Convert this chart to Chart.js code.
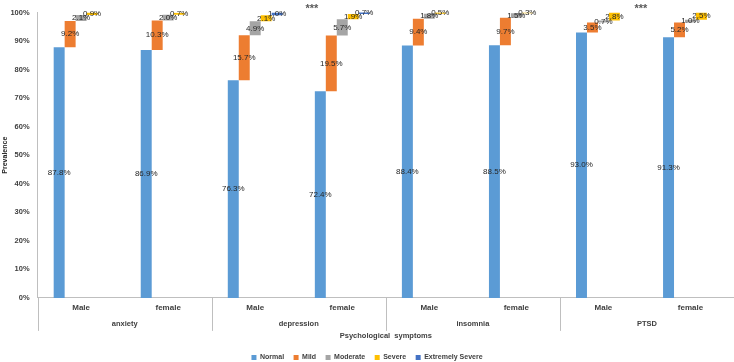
<!DOCTYPE html>
<html lang="en">
<head>
    <meta charset="UTF-8">
    <title>Psychological symptoms prevalence</title>
    <script src="https://cdn.jsdelivr.net/npm/chart.js"></script>
    <style>
        html, body { margin: 0; padding: 0; background: #fff; }
        .chart-box { width: 734px; height: 362px; }
    </style>
</head>
<body>
    <div class="chart-box"><canvas id="chart"></canvas></div>

    <script>
        // categories
        const groups = ['anxiety', 'depression', 'insomnia', 'PTSD'];
        const sexes = ['Male', 'female', 'Male', 'female', 'Male', 'female', 'Male', 'female'];
        const levels = ['Normal', 'Mild', 'Moderate', 'Severe', 'Extremely Severe'];
        const colors = ['#5B9BD5', '#ED7D31', '#A5A5A5', '#FFC000', '#4472C4'];

        // percentages per level, one value per bar column (anxiety M/F, depression M/F, insomnia M/F, PTSD M/F)
        const normal   = [87.8, 86.9, 76.3, 72.4, 88.4, 88.5, 93.0, 91.3];
        const mild     = [9.2, 10.3, 15.7, 19.5, 9.4, 9.7, 3.5, 5.2];
        const moderate = [2.1, 2.0, 4.9, 5.7, 1.8, 1.5, 0.7, 1.0];
        const severe   = [0.9, 0.7, 2.1, 1.9, 0.5, 0.3, 2.8, 2.5];
        const extreme  = [0, 0, 1.0, 0.7, 0, 0, 0, 0];
        const yTicks = [0, 10, 20, 30, 40, 50, 60, 70, 80, 90, 100];

        // significance markers, as category positions
        const starsAt = [2.65, 6.43];

        const series = [normal, mild, moderate, severe, extreme];

        // build waterfall-style floating bars: each level starts where the previous ended
        let running = sexes.map(() => 0);
        const datasets = series.map((vals, i) => {
            const data = vals.map((v, j) => {
                const start = running[j];
                running[j] = start + v;
                return v > 0 ? [start, start + v] : null;
            });
            return {
                label: levels[i],
                data: data,
                values: vals,
                backgroundColor: colors[i],
                borderWidth: 0
            };
        });

        const txt = '#404040';
        const lineCol = '#bfbfbf';
        const font = '"Liberation Sans", Arial, sans-serif';

        // value labels centered on every bar
        const barLabels = {
            id: 'barLabels',
            afterDatasetsDraw(chart) {
                const ctx = chart.ctx;
                ctx.save();
                ctx.font = '8px ' + font;
                ctx.fillStyle = '#262626';
                ctx.textAlign = 'center';
                ctx.textBaseline = 'middle';
                chart.data.datasets.forEach((ds, i) => {
                    const meta = chart.getDatasetMeta(i);
                    meta.data.forEach((bar, j) => {
                        if (!ds.data[j]) return;
                        const y = (bar.y + bar.base) / 2;
                        ctx.fillText(ds.values[j].toFixed(1) + '%', bar.x, y);
                    });
                });
                ctx.restore();
            }
        };

        // second level of the x axis: group names, separators, and *** markers
        const groupAxis = {
            id: 'groupAxis',
            beforeInit(chart) {
                // pull the legend down closer to the bottom edge
                const fit = chart.legend.fit;
                chart.legend.fit = function () {
                    fit.bind(this)();
                    this.height -= 9;
                };
            },
            afterDraw(chart) {
                const ctx = chart.ctx;
                const x = chart.scales.x;
                const bottom = chart.chartArea.bottom;
                ctx.save();
                ctx.strokeStyle = lineCol;
                ctx.lineWidth = 1;
                for (let k = 0; k <= groups.length; k++) {
                    const px = Math.round(x.getPixelForValue(2 * k - 0.5)) + 0.5;
                    ctx.beginPath();
                    ctx.moveTo(px, bottom);
                    ctx.lineTo(px, bottom + 33);
                    ctx.stroke();
                }
                ctx.font = 'bold 7.5px ' + font;
                ctx.fillStyle = txt;
                ctx.textAlign = 'center';
                ctx.textBaseline = 'middle';
                groups.forEach((g, k) => {
                    ctx.fillText(g, x.getPixelForValue(2 * k + 0.5), bottom + 26);
                });
                ctx.font = 'bold 11px ' + font;
                ctx.fillStyle = '#595959';
                starsAt.forEach(v => {
                    ctx.fillText('***', x.getPixelForValue(v), chart.chartArea.top - 4);
                });
                ctx.restore();
            }
        };

        new Chart(document.getElementById('chart'), {
            type: 'bar',
            data: { labels: sexes, datasets: datasets },
            plugins: [barLabels, groupAxis],
            options: {
                responsive: true,
                maintainAspectRatio: false,
                animation: false,
                layout: { padding: { top: 2, right: 0, left: 0, bottom: 0 } },
                datasets: {
                    bar: { categoryPercentage: 0.63, barPercentage: 1.0 }
                },
                scales: {
                    x: {
                        grid: { display: false, drawTicks: false },
                        border: { color: lineCol },
                        ticks: {
                            color: txt,
                            padding: 5,
                            font: { family: font, size: 8, weight: 'bold' }
                        },
                        title: {
                            display: true,
                            text: 'Psychological  symptoms',
                            color: txt,
                            padding: { top: 14, bottom: 4 },
                            font: { family: font, size: 7.5, weight: 'bold' }
                        }
                    },
                    y: {
                        min: 0,
                        max: 100,
                        afterBuildTicks(axis) {
                            axis.ticks = yTicks.map(v => ({ value: v }));
                        },
                        afterFit(axis) {
                            axis.width -= 8;
                        },
                        grid: { display: false, drawTicks: false },
                        border: { color: lineCol },
                        ticks: {
                            color: txt,
                            padding: 8,
                            callback: v => v + '%',
                            font: { family: font, size: 7.5, weight: 'bold' }
                        },
                        title: {
                            display: true,
                            text: 'Prevalence',
                            color: '#262626',
                            padding: 1,
                            font: { family: font, size: 7, weight: 'bold' }
                        }
                    }
                },
                plugins: {
                    legend: {
                        position: 'bottom',
                        labels: {
                            boxWidth: 5,
                            boxHeight: 5,
                            padding: 9.5,
                            color: txt,
                            font: { family: font, size: 7, weight: 'bold' }
                        }
                    },
                    tooltip: { enabled: false }
                }
            }
        });
    </script>
</body>
</html>
